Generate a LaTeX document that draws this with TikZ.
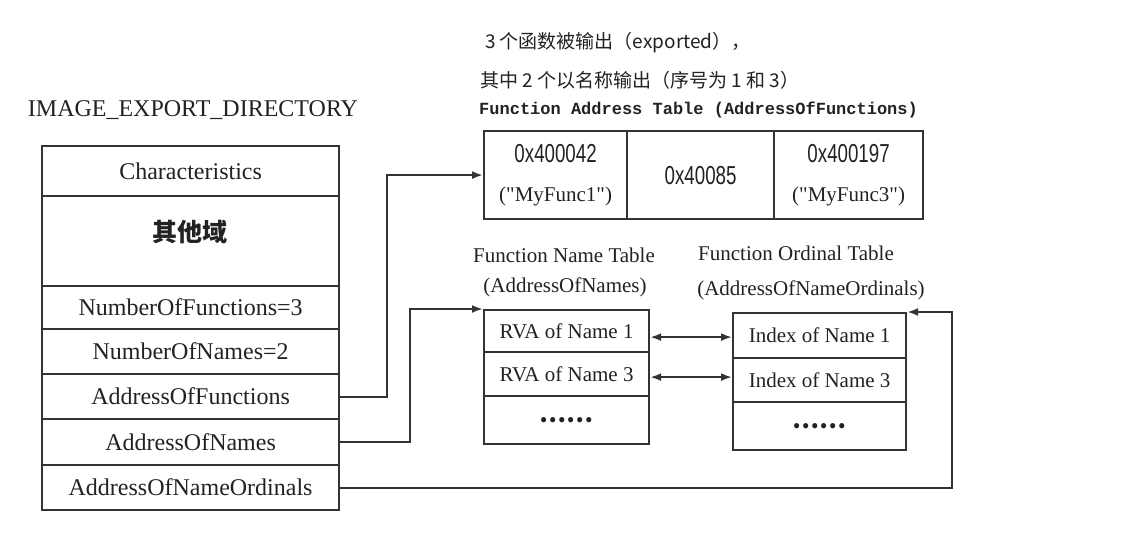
\documentclass[tikz,border=0pt]{standalone}
\usepackage{fontspec}
\setmainfont{Liberation Serif}
\newfontfamily\qserif{Liberation Serif}[Ligatures=TeXOff]
\newfontfamily\cjk{Noto Sans CJK SC}
\newfontfamily\hexf[FakeStretch=0.72]{Liberation Sans}
\newfontfamily\monof{Liberation Mono}
\usetikzlibrary{arrows.meta}
\definecolor{linec}{HTML}{333333}
\definecolor{txtc}{HTML}{222222}
\begin{document}
\begin{tikzpicture}[x=1pt,y=-1pt,
  box/.style={draw=linec, line width=2.2pt, anchor=north west, inner sep=0pt, text=txtc, align=center},
  row/.style={box, minimum width=297pt, font=\fontsize{24}{28}\selectfont},
  trow/.style={box, font=\fontsize{21}{25}\selectfont},
  fcell/.style={box, minimum height=88pt, font=\qserif\fontsize{21}{39}\selectfont},
  lbl/.style={inner sep=0pt, text=txtc, font=\fontsize{21}{25}\selectfont},
  hdr/.style={inner sep=0pt, anchor=west, text=txtc, font=\cjk\fontsize{19}{22}\selectfont},
  dots/.style={trow, font=\cjk\bfseries\fontsize{24}{25}\selectfont},
  tip/.style={-{Latex[length=11pt,width=8pt]}},
  conn/.style={draw=linec, line width=2pt, tip},
  dbl/.style={draw=linec, line width=2pt, {Latex[length=11pt,width=8pt]}-{Latex[length=11pt,width=8pt]}}
]
\fill[white] (0,0) rectangle (1124,538);
\useasboundingbox (0,0) rectangle (1124,538);

% title
\node[lbl, font=\fontsize{24}{28}\selectfont] (title) at (193,110) {IMAGE\_EXPORT\_DIRECTORY};

% left structure
\node[row, minimum height=50pt] (ch) at (41,145) {Characteristics};
\node[row, minimum height=90pt] (oth) at (41,195) {};
\node[lbl, font=\cjk\bfseries\fontsize{25}{28}\selectfont] (othtxt) at (189.5,232) {其他域};
\node[row, minimum height=43pt] (nof) at (41,285) {NumberOfFunctions=3};
\node[row, minimum height=45pt] (non) at (41,328) {NumberOfNames=2};
\node[row, minimum height=45pt] (aof) at (41,373) {AddressOfFunctions};
\node[row, minimum height=46pt] (aon) at (41,418) {AddressOfNames};
\node[row, minimum height=45pt] (aono) at (41,464) {AddressOfNameOrdinals};

% headers
\node[hdr] (h1) at (485,43) {3 个函数被输出（exported），};
\node[hdr] (h2) at (480,80) {其中 2 个以名称输出（序号为 1 和 3）};
\node[inner sep=0pt, anchor=west, text=txtc, font=\monof\bfseries\fontsize{17}{20}\selectfont] (h3) at (479,110) {Function Address Table (AddressOfFunctions)};

% function address table
\node[fcell, minimum width=143pt] (fat1) at (483,130)
  {{\hexf\fontsize{26}{39}\selectfont 0x400042}\\("MyFunc1")};
\node[fcell, minimum width=147pt, font=\hexf\fontsize{26}{30}\selectfont] (fat2) at (626,130) {0x40085};
\node[fcell, minimum width=149pt] (fat3) at (773,130)
  {{\hexf\fontsize{26}{39}\selectfont 0x400197}\\("MyFunc3")};

% function name table
\node[lbl] (fnl1) at (564,255) {Function Name Table};
\node[lbl] (fnl2) at (565,287) {(AddressOfNames)};
\node[trow, minimum width=165pt, minimum height=42pt] (fnt1) at (483,309) {RVA of Name 1};
\node[trow, minimum width=165pt, minimum height=44pt] (fnt2) at (483,351) {RVA of Name 3};
\node[dots, minimum width=165pt, minimum height=48pt] (fnt3) at (483,395) {……};

% function ordinal table
\node[lbl] (fol1) at (796,253) {Function Ordinal Table};
\node[lbl] (fol2) at (811,290) {(AddressOfNameOrdinals)};
\node[trow, minimum width=173pt, minimum height=45pt] (fot1) at (732,312) {Index of Name 1};
\node[trow, minimum width=173pt, minimum height=44pt] (fot2) at (732,357) {Index of Name 3};
\node[dots, minimum width=173pt, minimum height=48pt] (fot3) at (732,401) {……};

% connectors
\draw[conn] (aof.east) -- ++(47,0) |- (fat1.west);
\draw[conn] (aon.east) -- ++(70,0) |- (fnt1.north west);
\draw[conn] (aono.east) -- ++(612,0) |- (fot1.north east);
\draw[dbl] ([yshift=-6pt]fnt1.east) -- ([yshift=-1.5pt]fot1.west);
\draw[dbl] ([yshift=-3pt]fnt2.east) -- ([yshift=3pt]fot2.west);
\end{tikzpicture}
\end{document}
